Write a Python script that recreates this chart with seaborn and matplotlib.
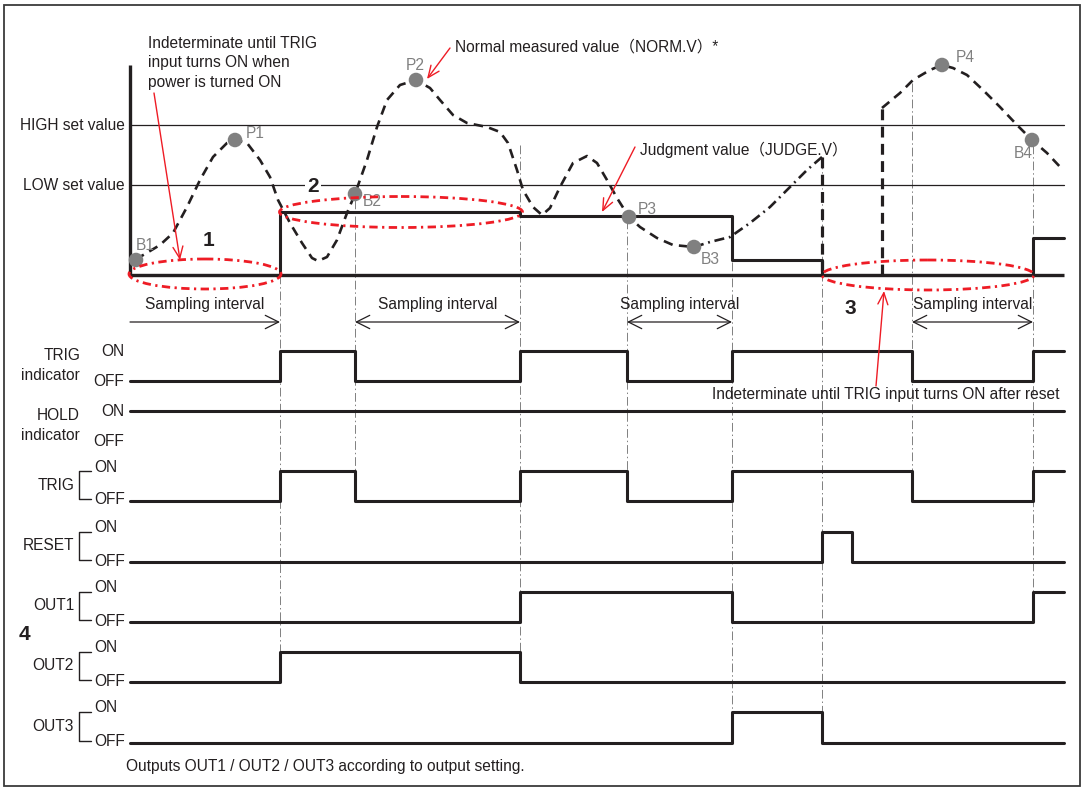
import numpy as np
import pandas as pd
import matplotlib
matplotlib.use("Agg")
import matplotlib.pyplot as plt
from matplotlib.patches import Ellipse, Rectangle
import seaborn as sns

# ---------------- data (diagram units: time axis / level axis) ----------------
# Measured value (NORM.V), dashed part B1 .. B3
norm_a_t = [136, 138, 145, 160, 173, 187, 200, 213, 227, 235, 247, 260, 270, 278, 290, 302,
            312, 318, 327, 337, 347, 355, 367, 377, 387, 400, 416, 430, 440, 453, 467, 487,
            500, 508, 517, 523, 533, 542, 550, 560, 573, 587, 597, 607, 617, 629, 640, 657,
            673, 694]
norm_a_v = [260, 258, 254, 245, 233, 207, 180, 157, 143, 140, 143, 160, 177, 200, 223, 243,
            258, 261, 257, 240, 213, 194, 160, 127, 100, 85, 80, 88, 100, 115, 123, 127,
            132, 143, 170, 190, 207, 215, 208, 187, 163, 156, 163, 180, 198, 217, 227, 238,
            245, 247]
# dash-dot part B3 .. reset
norm_b_t = [694, 710, 730, 750, 770, 790, 807, 822]
norm_b_v = [247, 242, 237, 223, 207, 187, 170, 157]
# after reset
norm_c_t = [882, 900, 913, 930, 942, 953, 967, 983, 1000, 1017, 1032, 1047, 1063]
norm_c_v = [108, 93, 80, 70, 65, 68, 75, 90, 107, 125, 140, 153, 170]

peak_t = [136, 235, 355, 416, 629, 694, 942, 1032]
peak_v = [260, 140, 194, 80, 217, 247, 65, 140]
peak_labels = ["B1", "P1", "B2", "P2", "P3", "B3", "P4", "B4"]
peak_label_dx = [9, 20, 17, -1, 18, 16, 23, -9]
peak_label_dy = [-15, -7, 8, -15, -7, 12, -8, 14]

# Judgment value (JUDGE.V) steps
judge_t = [130, 280, 520, 732, 822, 1033, 1064]
judge_v = [275, 212, 216, 260, 275, 238, 238]

HIGH_LEVEL = 125
LOW_LEVEL = 185
BASE_LEVEL = 275

# Timing events
edges_t = [130, 280, 355, 520, 627, 732, 822, 852, 912, 1033, 1064]
trig_ind = [0, 1, 0, 1, 0, 1, 1, 1, 0, 1, 1]
hold_ind = [1, 1, 1, 1, 1, 1, 1, 1, 1, 1, 1]
trig_in  = [0, 1, 0, 1, 0, 1, 1, 1, 0, 1, 1]
reset_in = [0, 0, 0, 0, 0, 0, 1, 0, 0, 0, 0]
out1     = [0, 0, 0, 1, 1, 0, 0, 0, 0, 1, 1]
out2     = [0, 1, 1, 0, 0, 0, 0, 0, 0, 0, 0]
out3     = [0, 0, 0, 0, 0, 1, 0, 0, 0, 0, 0]

# rows: name, values, ON level, OFF level, style
row_names = ["TRIG\nindicator", "HOLD\nindicator", "TRIG", "RESET", "OUT1", "OUT2", "OUT3"]
row_values = [trig_ind, hold_ind, trig_in, reset_in, out1, out2, out3]
row_on = [351, 411, 471, 532, 592, 652, 712]
row_off = [381, 441, 501, 562, 622, 682, 743]
row_bracket = [False, False, True, True, True, True, True]

# guide lines (time, top, bottom)
guide_t = [280, 355, 520, 627, 732, 822, 912, 1033]
guide_top = [275, 200, 145, 220, 262, 160, 83, 145]
guide_bot = [652, 470, 652, 470, 712, 743, 470, 592]

# sampling intervals (start, end)
samp_start = [130, 355, 627, 912]
samp_end = [280, 520, 732, 1033]
samp_both = [False, True, True, True]

# ---------------- drawing ----------------
sns.set_theme(style="white")
plt.rcParams["font.family"] = ["Liberation Sans", "Noto Sans CJK JP", "DejaVu Sans"]

fig = plt.figure(figsize=(10.82, 7.87), dpi=100)
ax = fig.add_axes([0, 0, 1, 1])

BLACK = "#231f20"
GREY = "#808080"
RED = "#ee1c25"
FS = 11.2

# frame
ax.add_patch(Rectangle((4, 5), 1076, 781, fill=False, lw=1.3, ec="#3a3a3a", zorder=1))

# guide lines
for t, a, b in zip(guide_t, guide_top, guide_bot):
    ax.plot([t, t], [a, b], color=GREY, lw=0.7, ls=(0, (9, 3, 1.5, 3)), zorder=1)

# threshold lines
ax.plot([130, 1064], [HIGH_LEVEL, HIGH_LEVEL], color=BLACK, lw=0.9, zorder=2)
ax.plot([130, 1064], [LOW_LEVEL, LOW_LEVEL], color=BLACK, lw=0.9, zorder=2)
ax.text(125, HIGH_LEVEL, "HIGH set value", ha="right", va="center", fontsize=FS, color=BLACK)
ax.text(125, LOW_LEVEL, "LOW set value", ha="right", va="center", fontsize=FS, color=BLACK)

# axes of the top chart
ax.plot([130, 130], [65, BASE_LEVEL], color=BLACK, lw=2.4, zorder=3, solid_capstyle="butt")
ax.plot([130, 1064], [BASE_LEVEL, BASE_LEVEL], color=BLACK, lw=2.4, zorder=3, solid_capstyle="butt")

# judgment value
jd = pd.DataFrame({"t": judge_t, "v": judge_v})
sns.lineplot(data=jd, x="t", y="v", ax=ax, color=BLACK, lw=2.2, drawstyle="steps-post",
             estimator=None, sort=False, zorder=4)

# measured value
da = pd.DataFrame({"t": norm_a_t, "v": norm_a_v})
sns.lineplot(data=da, x="t", y="v", ax=ax, color=BLACK, lw=1.9, ls=(0, (3.6, 2.4)),
             estimator=None, sort=False, zorder=5)
db = pd.DataFrame({"t": norm_b_t, "v": norm_b_v})
sns.lineplot(data=db, x="t", y="v", ax=ax, color=BLACK, lw=1.9, ls=(0, (3.8, 1.8, 0.7, 1.8)),
             estimator=None, sort=False, zorder=5)
dc = pd.DataFrame({"t": norm_c_t, "v": norm_c_v})
sns.lineplot(data=dc, x="t", y="v", ax=ax, color=BLACK, lw=1.9, ls=(0, (3.6, 2.4)),
             estimator=None, sort=False, zorder=5)
ax.plot([norm_b_t[-1], norm_b_t[-1]], [norm_b_v[-1], BASE_LEVEL], color=BLACK, lw=2.3,
        ls=(0, (3.4, 2.0)), zorder=5)
ax.plot([norm_c_t[0], norm_c_t[0]], [BASE_LEVEL, norm_c_v[0]], color=BLACK, lw=2.3,
        ls=(0, (3.4, 2.0)), zorder=5)

# peaks / bottoms
pk = pd.DataFrame({"t": peak_t, "v": peak_v})
sns.scatterplot(data=pk, x="t", y="v", ax=ax, color=GREY, s=110, edgecolor="none", zorder=6)
for t, v, lab, dx, dy in zip(peak_t, peak_v, peak_labels, peak_label_dx, peak_label_dy):
    ax.text(t + dx, v + dy, lab, color=GREY, fontsize=FS, ha="center", va="center", zorder=6)

# red ellipses
ell_kw = dict(fill=False, ec=RED, lw=2.0, ls=(0, (3.0, 1.6, 0.8, 1.6)), zorder=7)
ax.add_patch(Ellipse((205, 274), 152, 30, **ell_kw))
ax.add_patch(Ellipse((401, 212), 243, 31, **ell_kw))
ax.add_patch(Ellipse((928, 275), 212, 30, **ell_kw))

# bold numbers
NFS = 15
ax.text(208, 240, "1", fontsize=NFS, fontweight="bold", ha="center", va="center", color=BLACK)
ax.text(313, 186, "2", fontsize=NFS, fontweight="bold", ha="center", va="center", color=BLACK,
        bbox=dict(boxstyle="square,pad=0.12", fc="white", ec="none"), zorder=3)
ax.text(850, 308, "3", fontsize=NFS, fontweight="bold", ha="center", va="center", color=BLACK)
ax.text(24, 634, "4", fontsize=NFS, fontweight="bold", ha="center", va="center", color=BLACK)

# annotations
for i, line in enumerate(["Indeterminate until TRIG", "input turns ON when", "power is turned ON"]):
    ax.text(148, 43 + 19.5 * i, line, fontsize=FS, ha="left", va="center", color=BLACK)
ax.text(455, 47, "Normal measured value（NORM.V）*", fontsize=FS, ha="left", va="center", color=BLACK)
ax.text(640, 150, "Judgment value（JUDGE.V）", fontsize=FS, ha="left", va="center", color=BLACK)
ax.text(712, 395, "Indeterminate until TRIG input turns ON after reset", fontsize=FS,
        ha="left", va="center", color=BLACK, zorder=8)

red_arrows = [((154, 93), (180, 260)), ((450, 48), (427, 79)),
              ((635, 147), (602, 212)), ((876, 386), (884, 291))]
for (x0, y0), (x1, y1) in red_arrows:
    ax.annotate("", xy=(x1, y1), xytext=(x0, y0),
                arrowprops=dict(arrowstyle="->,head_length=0.7,head_width=0.3", color=RED, lw=1.0,
                                shrinkA=0, shrinkB=0), zorder=8)

# sampling intervals
for a, b, both in zip(samp_start, samp_end, samp_both):
    style = "<->" if both else "->"
    ax.annotate("", xy=(b, 322), xytext=(a, 322),
                arrowprops=dict(arrowstyle=style + ",head_length=0.8,head_width=0.4",
                                color=BLACK, lw=0.9, shrinkA=0, shrinkB=0))
    ax.text((a + b) / 2, 305, "Sampling interval", fontsize=FS, ha="center", va="center", color=BLACK)

# timing rows
for name, vals, yon, yoff, br in zip(row_names, row_values, row_on, row_off, row_bracket):
    levels = [yon if s else yoff for s in vals]
    d = pd.DataFrame({"t": edges_t, "v": levels})
    sns.lineplot(data=d, x="t", y="v", ax=ax, color=BLACK, lw=2.2, drawstyle="steps-post",
                 estimator=None, sort=False, zorder=4)
    if br:
        ax.plot([91, 79, 79, 91], [yon, yon, yoff - 2, yoff - 2], color=BLACK, lw=1.0)
        ax.text(94, yon - 4, "ON", fontsize=FS, ha="left", va="center", color=BLACK)
        ax.text(94, yoff - 1, "OFF", fontsize=FS, ha="left", va="center", color=BLACK)
        ax.text(74, (yon + yoff) / 2 - 1, name, fontsize=FS, ha="right", va="center", color=BLACK)
    else:
        ax.text(124, yon, "ON", fontsize=FS, ha="right", va="center", color=BLACK)
        ax.text(124, yoff, "OFF", fontsize=FS, ha="right", va="center", color=BLACK)
        top, bottom = name.split("\n")
        ax.text(80, yon + 5, top, fontsize=FS, ha="right", va="center", color=BLACK)
        ax.text(80, yon + 25, bottom, fontsize=FS, ha="right", va="center", color=BLACK)

ax.text(126, 767, "Outputs OUT1 / OUT2 / OUT3 according to output setting.", fontsize=FS,
        ha="left", va="center", color=BLACK)

ax.set_xlim(0, 1082)
ax.set_ylim(787, 0)
ax.axis("off")
fig.savefig("out.png", dpi=100, facecolor="white")
